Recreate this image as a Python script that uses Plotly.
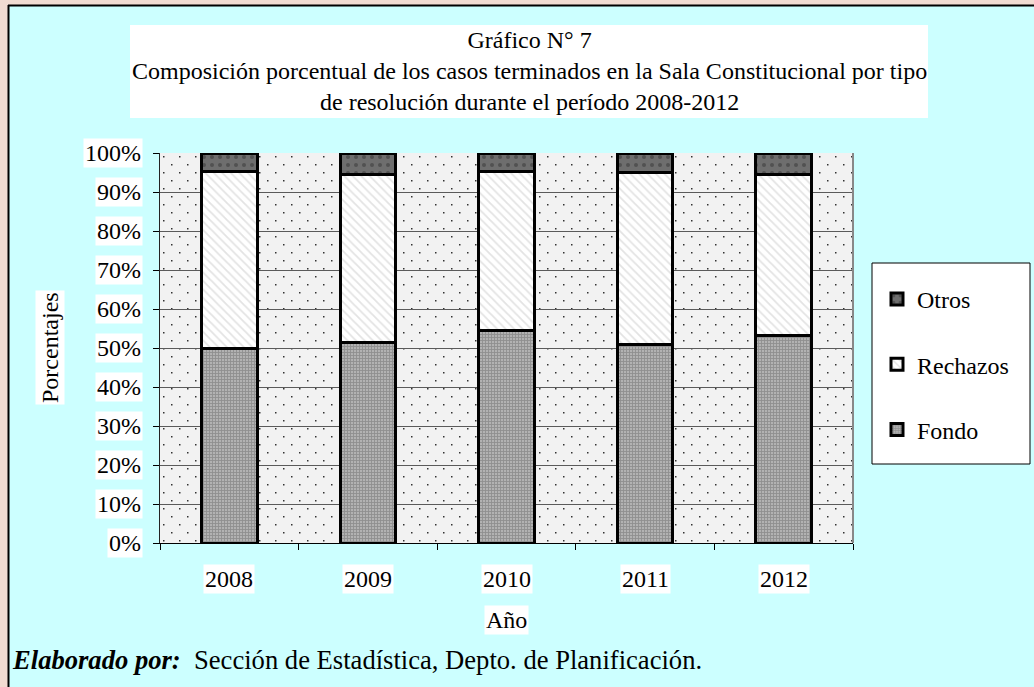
import base64
import plotly.graph_objects as go

years = ['2008', '2009', '2010', '2011', '2012']
fondo = [49.8, 51.5, 54.6, 51.0, 53.1]
rechazos = [45.4, 43.1, 40.6, 43.9, 41.5]
otros = [4.8, 5.4, 4.8, 5.1, 5.4]
y_ticks = [0, 10, 20, 30, 40, 50, 60, 70, 80, 90, 100]
y_tick_text = [f'{v}%' for v in y_ticks]

W, H = 1034, 687
L, R, T, B = 160, 181, 153, 144
PW, PH = W - L - R, H - T - B
FONT = 'Liberation Serif'
CYAN = '#ccffff'
PINK = '#f2dcd2'


def px_x(p):
    return (p - L) / PW


def px_y(p):
    return (H - B - p) / PH


# dotted background for the plot area (Excel style)
svg = (f'<svg xmlns="http://www.w3.org/2000/svg" width="{PW}" height="{PH}">'
       '<defs><pattern id="d" width="16" height="16" patternUnits="userSpaceOnUse">'
       '<rect width="16" height="16" fill="#f2f2f2"/>'
       '<rect x="3" y="3" width="1.5" height="1.5" fill="#333"/>'
       '<rect x="11" y="11" width="1.5" height="1.5" fill="#333"/>'
       '</pattern></defs><rect width="100%" height="100%" fill="url(#d)"/></svg>')
bg_src = 'data:image/svg+xml;base64,' + base64.b64encode(svg.encode()).decode()

fig = go.Figure()
fig.add_trace(go.Bar(
    x=years, y=fondo, name='Fondo', legendgroup='f', legendrank=3,
    marker=dict(color='#9a9a9a', line=dict(color='black', width=3),
                pattern=dict(shape='+', fgcolor='#6a6a6a', bgcolor='#b2b2b2', size=3, solidity=0.5)),
))
fig.add_trace(go.Bar(
    x=years, y=rechazos, name='Rechazos', legendgroup='r', legendrank=2,
    marker=dict(color='white', line=dict(color='black', width=3),
                pattern=dict(shape='\\', fgcolor='#c8c8c8', bgcolor='white', size=6, solidity=0.3)),
))
fig.add_trace(go.Bar(
    x=years, y=otros, name='Otros', legendgroup='o', legendrank=1,
    marker=dict(color='#6f6f6f', line=dict(color='black', width=3),
                pattern=dict(shape='.', fgcolor='#333333', bgcolor='#6e6e6e', size=8, solidity=0.2)),
))

fig.update_layout(
    width=W, height=H,
    margin=dict(l=L, r=R, t=T, b=B),
    barmode='stack',
    bargap=0.6,
    paper_bgcolor=CYAN,
    plot_bgcolor='#f2f2f2',
    font=dict(family=FONT, size=24, color='black'),
    showlegend=True,
    legend=dict(
        x=px_x(877), y=px_y(277), xanchor='left', yanchor='top',
        bgcolor='rgba(0,0,0,0)', borderwidth=0,
        traceorder='grouped', tracegroupgap=31,
        font=dict(family=FONT, size=24),
    ),
    xaxis=dict(
        type='category', range=[-0.5, len(years) - 0.5],
        showticklabels=False, showline=True, linecolor='black', linewidth=1,
        ticks='outside', ticklen=6, tickcolor='black', tickson='boundaries',
        showgrid=False,
    ),
    yaxis=dict(
        range=[0, 100], tickvals=y_ticks, showticklabels=False,
        showline=True, linecolor='#222222', linewidth=1,
        ticks='outside', ticklen=6, tickcolor='black',
        showgrid=True, gridcolor='#5a5a5a', gridwidth=1, zeroline=False,
    ),
    images=[dict(
        source=bg_src, xref='x domain', yref='y domain', x=0, y=1,
        sizex=1, sizey=1, sizing='stretch', xanchor='left', yanchor='top', layer='below',
    )],
)

shapes = [
    # pink slide background strips and frame of the cyan panel
    dict(type='rect', xref='paper', yref='paper', x0=px_x(0), x1=px_x(8), y0=px_y(H), y1=px_y(0),
         fillcolor=PINK, line_width=0, layer='below'),
    dict(type='rect', xref='paper', yref='paper', x0=px_x(0), x1=px_x(W), y0=px_y(5), y1=px_y(0),
         fillcolor=PINK, line_width=0, layer='below'),
    dict(type='line', xref='paper', yref='paper', x0=px_x(8), x1=px_x(W), y0=px_y(5.5), y1=px_y(5.5),
         line=dict(color='black', width=2)),
    dict(type='line', xref='paper', yref='paper', x0=px_x(8.5), x1=px_x(8.5), y0=px_y(H), y1=px_y(5),
         line=dict(color='black', width=2)),
    # right border of the plot area
    dict(type='line', xref='paper', yref='paper', x0=1, x1=1, y0=0, y1=1,
         line=dict(color='#888888', width=2)),
    # title box
    dict(type='rect', xref='paper', yref='paper', x0=px_x(130), x1=px_x(928), y0=px_y(118), y1=px_y(25),
         fillcolor='white', line_width=0, layer='below'),
    # legend box
    dict(type='rect', xref='paper', yref='paper', x0=px_x(872), x1=px_x(1030), y0=px_y(464), y1=px_y(263),
         fillcolor='white', line=dict(color='black', width=1), layer='below'),
]
fig.update_layout(shapes=shapes)

annotations = [
    dict(text='Gráfico N° 7<br>Composición porcentual de los casos terminados en la Sala Constitucional por tipo'
              '<br>de resolución durante el período 2008-2012',
         xref='paper', yref='paper', x=px_x(529), y=px_y(71), xanchor='center', yanchor='middle',
         showarrow=False, font=dict(size=24)),
    dict(text='Año', xref='paper', yref='paper', x=px_x(507), y=px_y(620), xanchor='center', yanchor='middle',
         showarrow=False, bgcolor='white', borderpad=1),
    dict(text='Porcentajes', xref='paper', yref='paper', x=px_x(50), y=px_y(348), textangle=-90,
         xanchor='center', yanchor='middle', showarrow=False, bgcolor='white', borderpad=1),
    dict(text='<b><i>Elaborado por:</i></b>  Sección de Estadística, Depto. de Planificación.',
         xref='paper', yref='paper', x=px_x(10), y=px_y(660), xanchor='left', yanchor='middle',
         showarrow=False, font=dict(size=26.6)),
]
for v, t in zip(y_ticks, y_tick_text):
    annotations.append(dict(text=t, xref='paper', yref='y', x=0, y=v, xanchor='right', xshift=-17,
                            showarrow=False, bgcolor='white', borderpad=1))
for i, yr in enumerate(years):
    annotations.append(dict(text=yr, xref='x', yref='paper', x=i, y=0, yanchor='middle', yshift=-36,
                            showarrow=False, bgcolor='white', borderpad=1))
fig.update_layout(annotations=annotations)

fig.write_html('out.html', config={'displayModeBar': False},
               post_script="document.body.style.margin='0';")
